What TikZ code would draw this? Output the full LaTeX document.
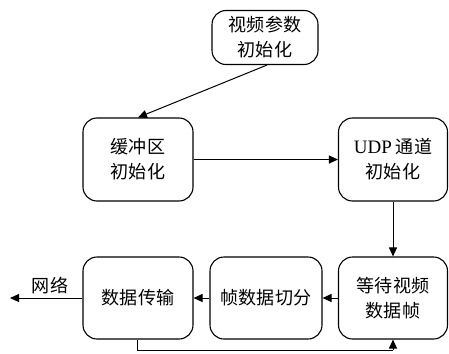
\documentclass[tikz,border=0pt]{standalone}
\usepackage{fontspec}
\setmainfont{Liberation Serif}
\newfontfamily\cjk{Noto Sans CJK SC}[Scale=0.95]
\usetikzlibrary{arrows.meta}
\begin{document}
\begin{tikzpicture}[x=1pt,y=-1pt,
  box/.style={draw,line width=1.1pt,rounded corners=14pt,align=center,
    font=\fontsize{19pt}{25pt}\selectfont\cjk,inner sep=0pt},
  conn/.style={line width=1pt,-{Triangle[length=9pt,width=8pt]}},
  plain/.style={line width=1pt}]
\useasboundingbox (0,0) rectangle (449,353);
\node[box,minimum width=106pt,minimum height=54pt] (params) at (265,37.5) {视频参数\\初始化};
\node[box,minimum width=110pt,minimum height=83pt] (buf) at (138,159.5) {缓冲区\\初始化};
\node[box,minimum width=109pt,minimum height=83pt] (udp) at (393,159.5) {{\rmfamily UDP} 通道\\初始化};
\node[box,minimum width=109pt,minimum height=82pt] (wait) at (393,298) {等待视频\\数据帧};
\node[box,minimum width=112pt,minimum height=82pt] (split) at (266,298) {帧数据切分};
\node[box,minimum width=110pt,minimum height=82pt] (send) at (138,298) {数据传输};
\coordinate (net) at (10,298);
\node[font=\fontsize{19pt}{25pt}\selectfont\cjk,inner sep=0pt] (netlbl) at (50,286) {网络};
\draw[conn] (params.south) ++(2,0) coordinate (pa) -- (buf.north);
\draw[conn] (buf.east) -- (udp.west);
\draw[conn] (udp.south) -- (wait.north);
\draw[conn] (wait.west) -- (split.east);
\draw[conn] (split.west) -- (send.east);
\draw[conn] (send.west) -- (net);
\coordinate (b1) at (137,350);
\coordinate (b2) at (393,350);
\draw[plain] (send.south -| b1) -- (b1) -- (b2);
\draw[conn] (b2) -- (wait.south);
\end{tikzpicture}
\end{document}
